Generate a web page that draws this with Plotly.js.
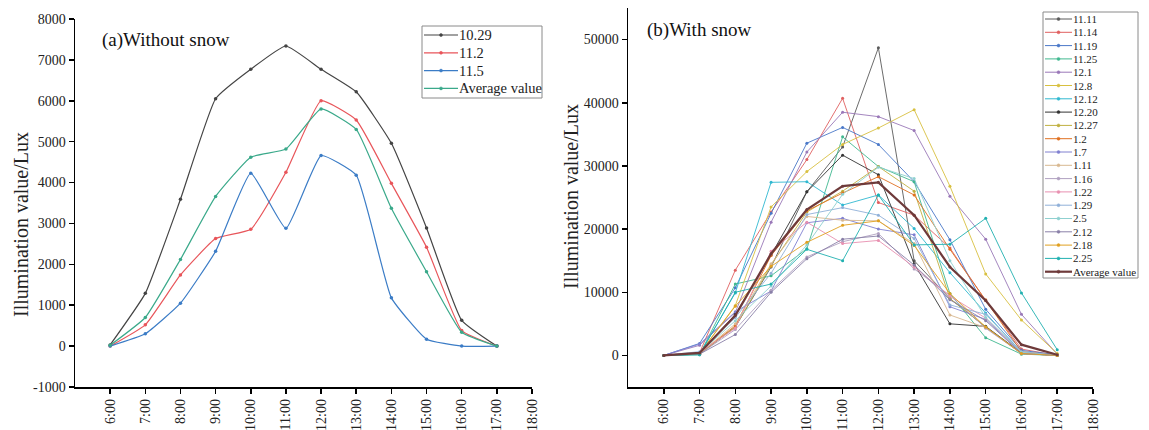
<!DOCTYPE html>
<html>
<head>
<meta charset="utf-8">
<script src="https://cdn.plot.ly/plotly-3.0.1.min.js"></script>
<style>html,body{margin:0;padding:0;background:#fff;}#chart{width:1149px;height:430px;}</style>
</head>
<body>
<div id="chart"></div>
<script>
// ---------- data ----------
const hours = [6, 7, 8, 9, 10, 11, 12, 13, 14, 15, 16, 17];
const tickHours = [6, 7, 8, 9, 10, 11, 12, 13, 14, 15, 16, 17, 18];
const tickLabels = ["6:00","7:00","8:00","9:00","10:00","11:00","12:00","13:00","14:00","15:00","16:00","17:00","18:00"];
const yTicksA = [-1000, 0, 1000, 2000, 3000, 4000, 5000, 6000, 7000, 8000];
const yLabelsA = ["-1000", "0", "1000", "2000", "3000", "4000", "5000", "6000", "7000", "8000"];
const yTicksB = [0, 10000, 20000, 30000, 40000, 50000];
const yLabelsB = ["0", "10000", "20000", "30000", "40000", "50000"];

// (a) without snow
const noSnowNames = ["10.29", "11.2", "11.5", "Average value"];
const d1029 = [30, 1290, 3590, 6050, 6770, 7340, 6770, 6220, 4960, 2890, 630, 0];
const d112  = [0, 520, 1740, 2630, 2860, 4250, 6000, 5530, 3980, 2420, 380, 0];
const d115  = [0, 300, 1050, 2320, 4230, 2880, 4660, 4180, 1180, 170, 0, 0];
const dAvgA = [20, 700, 2120, 3660, 4620, 4820, 5800, 5300, 3370, 1820, 340, 0];

// (b) with snow
const snowNames = ["11.11","11.14","11.19","11.25","12.1","12.8","12.12","12.20","12.27","1.2","1.7","1.11","1.16","1.22","1.29","2.5","2.12","2.18","2.25","Average value"];
const s1111 = [0, 200, 4500, 14000, 25900, 33000, 48700, 15000, 9000, 4500, 300, 0];
const s1114 = [0, 400, 13500, 22700, 31000, 40700, 24200, 22200, 17000, 8700, 1000, 0];
const s1119 = [0, 1900, 10700, 22500, 33600, 36100, 33400, 27500, 18300, 7300, 800, 100];
const s1125 = [0, 100, 11300, 12600, 16900, 34600, 29900, 27500, 9800, 2800, 200, 0];
const s121  = [0, 1600, 6800, 21100, 32200, 38500, 37800, 35600, 25200, 18400, 6500, 200];
const s128  = [0, 300, 7900, 23500, 29100, 33400, 36000, 38900, 26800, 12900, 5600, 300];
const s1212 = [0, 200, 9900, 27400, 27500, 23800, 25400, 20100, 13100, 6700, 500, 0];
const s1220 = [0, 300, 6500, 15900, 25900, 31700, 28600, 14500, 5000, 4600, 400, 0];
const s1227 = [0, 200, 4500, 14300, 22700, 26000, 29900, 26000, 9000, 4500, 300, 0];
const s12   = [0, 300, 4700, 15800, 22900, 25700, 28300, 25400, 16800, 8800, 600, 0];
const s17   = [0, 1800, 6900, 10200, 21000, 21700, 20000, 19100, 7700, 5700, 400, 0];
const s111  = [0, 300, 5000, 14500, 22000, 21400, 21300, 17700, 6400, 4400, 300, 0];
const s116  = [0, 200, 4100, 10300, 15600, 18000, 19300, 13700, 9500, 4300, 300, 0];
const s122  = [0, 500, 4300, 16500, 21100, 17700, 18200, 14000, 9400, 5900, 500, 0];
const s129  = [0, 600, 6000, 13000, 22300, 23400, 22200, 18500, 8000, 6500, 600, 0];
const s25   = [0, 400, 5500, 11000, 17500, 25500, 29800, 28000, 15000, 6000, 500, 0];
const s212  = [0, 200, 3300, 10000, 15300, 18400, 18900, 14300, 8800, 5500, 300, 0];
const s218  = [0, 300, 7800, 14100, 17900, 20600, 21300, 17400, 9800, 4500, 300, 0];
const s225  = [0, 100, 10000, 11300, 16800, 15000, 25400, 17500, 17600, 21700, 9900, 900];
const sAvg  = [0, 400, 6300, 16100, 23100, 26800, 27400, 22200, 14000, 8700, 1700, 100];

// ---------- styles ----------
const FONT = "Liberation Serif, Times New Roman, serif";
const noSnowData = [d1029, d112, d115, dAvgA];
const noSnowColors = ["#444444", "#e8555a", "#3b7cc6", "#3aa98a"];
const snowData = [s1111,s1114,s1119,s1125,s121,s128,s1212,s1220,s1227,s12,s17,s111,s116,s122,s129,s25,s212,s218,s225,sAvg];
const snowColors = ["#5a5a5a","#e06060","#4a78c8","#40b890","#9a78b8","#d8c040","#30b8d0","#333333","#c0b040","#e07020",
                    "#8080d0","#d8b890","#b0a0c0","#e890b0","#90b0d8","#8fd0d0","#8a80a8","#e0a020","#20b0b0","#6e3a3a"];

const traces = [];
noSnowNames.forEach((n, i) => {
  traces.push({
    x: hours, y: noSnowData[i], name: n, type: "scatter", mode: "lines+markers",
    xaxis: "x", yaxis: "y",
    line: {color: noSnowColors[i], width: 1.2, shape: "spline", smoothing: 0.4},
    marker: {color: noSnowColors[i], size: 3.5}
  });
});
snowNames.forEach((n, i) => {
  const isAvg = i === snowNames.length - 1;
  traces.push({
    x: hours, y: snowData[i], name: n, type: "scatter", mode: "lines+markers",
    xaxis: "x2", yaxis: "y2",
    line: {color: snowColors[i], width: isAvg ? 2.2 : 0.9},
    marker: {color: snowColors[i], size: 3}
  });
});

const W = 1149, H = 430;
const px = v => v / W, py = v => 1 - v / H;

// ---------- hand-drawn legends (decoration) ----------
const shapes = [];
const annotations = [];
function buildLegend(names, colors, box, first, step, lineX0, lineX1, textX, fontSize, widths) {
  shapes.push({type: "rect", xref: "paper", yref: "paper", layer: "above",
    x0: px(box[0]), x1: px(box[1]), y0: py(box[2]), y1: py(box[3]),
    line: {color: "#8a8a8a", width: 1}, fillcolor: "rgba(255,255,255,0)"});
  names.forEach((n, i) => {
    const yy = first + i * step;
    shapes.push({type: "line", xref: "paper", yref: "paper", layer: "above",
      x0: px(lineX0), x1: px(lineX1), y0: py(yy), y1: py(yy),
      line: {color: colors[i], width: widths[i]}});
    const cx = (lineX0 + lineX1) / 2;
    shapes.push({type: "circle", xref: "paper", yref: "paper", layer: "above",
      x0: px(cx - 1.5), x1: px(cx + 1.5), y0: py(yy + 1.5), y1: py(yy - 1.5),
      line: {color: colors[i], width: 0.5}, fillcolor: colors[i]});
    annotations.push({text: n, xref: "paper", yref: "paper", x: px(textX), y: py(yy),
      xanchor: "left", yanchor: "middle", showarrow: false,
      font: {family: FONT, size: fontSize, color: "#222"}});
  });
}
buildLegend(noSnowNames, noSnowColors, [422, 542, 26, 98], 35, 17.8, 424, 458, 457, 14.5,
            noSnowNames.map(() => 1.2));
buildLegend(snowNames, snowColors, [1043, 1138, 12, 278], 19, 13.3, 1045, 1072, 1071, 11,
            snowNames.map((n, i) => i === snowNames.length - 1 ? 2.2 : 1));

annotations.push(
  {text: "(a)Without snow", xref: "paper", yref: "paper", x: px(100), y: py(40),
   xanchor: "left", yanchor: "middle", showarrow: false, font: {family: FONT, size: 19, color: "#111"}},
  {text: "(b)With snow", xref: "paper", yref: "paper", x: px(645), y: py(30),
   xanchor: "left", yanchor: "middle", showarrow: false, font: {family: FONT, size: 19, color: "#111"}},
  {text: "Illumination value/Lux", xref: "paper", yref: "paper", x: px(21), y: py(225),
   xanchor: "center", yanchor: "middle", textangle: -90, showarrow: false, font: {family: FONT, size: 20, color: "#222"}},
  {text: "Illumination value/Lux", xref: "paper", yref: "paper", x: px(571), y: py(197),
   xanchor: "center", yanchor: "middle", textangle: -90, showarrow: false, font: {family: FONT, size: 20, color: "#222"}}
);

const axisCommon = {
  showgrid: false, zeroline: false, showline: true, linecolor: "#000", linewidth: 1.5,
  ticks: "outside", ticklen: 5, tickwidth: 1.5, tickcolor: "#000",
  tickfont: {family: FONT, size: 14, color: "#222"}
};

const layout = {
  width: W, height: H,
  margin: {l: 0, r: 0, t: 0, b: 0},
  paper_bgcolor: "#fff", plot_bgcolor: "#fff",
  showlegend: false,
  xaxis: Object.assign({}, axisCommon, {
    domain: [px(75), px(532)], range: [5, 18], tickvals: tickHours, ticktext: tickLabels,
    tickangle: -90, anchor: "y"
  }),
  yaxis: Object.assign({}, axisCommon, {
    domain: [py(387), py(19)], range: [-1000, 8000], tickvals: yTicksA, ticktext: yLabelsA, anchor: "x"
  }),
  xaxis2: Object.assign({}, axisCommon, {
    domain: [px(628), px(1093)], range: [5, 18], tickvals: tickHours, ticktext: tickLabels,
    tickangle: -90, anchor: "y2"
  }),
  yaxis2: Object.assign({}, axisCommon, {
    domain: [py(387), py(8)], range: [-5000, 55000], tickvals: yTicksB, ticktext: yLabelsB, anchor: "x2"
  }),
  shapes: shapes,
  annotations: annotations
};

Plotly.newPlot("chart", traces, layout, {displayModeBar: false, staticPlot: true});
</script>
</body>
</html>
